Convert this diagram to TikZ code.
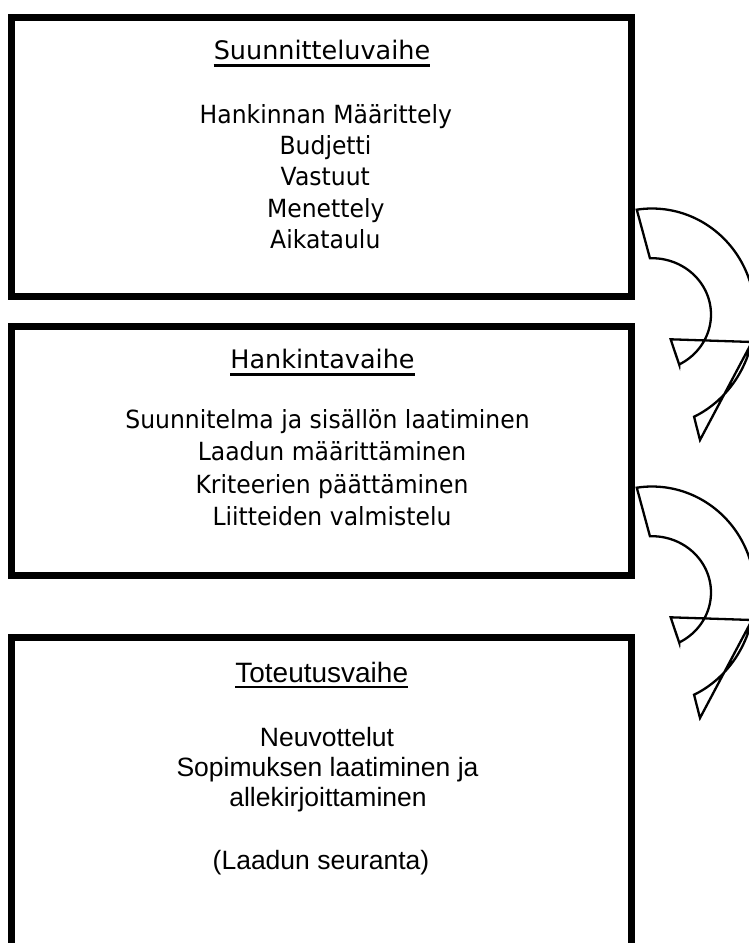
\documentclass[tikz,border=0pt]{standalone}
\usepackage{fontspec}
\newfontfamily\tahfont{DejaVu Sans}[FakeStretch=0.94]
\newfontfamily\tahtitle{DejaVu Sans}
\newfontfamily\arialfont{Liberation Sans}
\tikzset{
  boxst/.style={draw, line width=7pt, inner sep=0pt, minimum width=620pt},
  ttl/.style={anchor=base, inner sep=0pt, font=\tahtitle\fontsize{25.5pt}{30pt}\selectfont},
  itm/.style={anchor=base, inner sep=0pt, font=\tahfont\fontsize{25pt}{30pt}\selectfont},
  ttlb/.style={anchor=base, inner sep=0pt, font=\arialfont\fontsize{28pt}{32pt}\selectfont},
  itmb/.style={anchor=base, inner sep=0pt, font=\arialfont\fontsize{26.5pt}{30pt}\selectfont},
  uline/.style={line width=2.4pt},
  arrst/.style={line width=2.3pt, line join=miter}
}
\newcommand\curvarr{%
  \draw[arrst] plot[domain=-98.5:0, samples=50, variable=\t] ({652+103*cos(\t)},{314.5+106*sin(\t)})
    -- plot[domain=0:65.9, samples=50, variable=\t] ({652+103*cos(\t)},{314.5+112*sin(\t)})
    -- (700,440) -- (752,342) -- (670.7,339.3) -- (679.3,365)
    -- plot[domain=62.4:-92, samples=60, variable=\t] ({652+59*cos(\t)},{314.5+56.3*sin(\t)})
    -- cycle;}
\begin{document}
\begin{tikzpicture}[x=1pt,y=-1pt]
\useasboundingbox (0,0) rectangle (749,943);
\clip (0,0) rectangle (749,943);
\fill[white] (0,0) rectangle (749,943);

% boxes
\node[boxst, minimum height=279pt] (b1) at (321.5,157) {};
\node[boxst, minimum height=249pt] (b2) at (321.5,451.3) {};
\node[boxst, minimum height=340pt] (b3) at (321.5,807.5) {};

% box 1 text
\node[ttl] (t1) at (322,59.3) {Suunnitteluvaihe};
\draw[uline] ([yshift=-6pt]t1.base west) -- ([yshift=-6pt]t1.base east);
\node[itm] (t1a) at (325.8,123.3) {Hankinnan Määrittely};
\node[itm] (t1b) at (325.5,154.5) {Budjetti};
\node[itm] (t1c) at (325.3,185.7) {Vastuut};
\node[itm] (t1d) at (325.8,217) {Menettely};
\node[itm] (t1e) at (325.3,248.3) {Aikataulu};

% box 2 text
\node[ttl] (t2) at (322.5,368) {Hankintavaihe};
\draw[uline] ([yshift=-6.5pt]t2.base west) -- ([yshift=-6.5pt]t2.base east);
\node[itm] (t2a) at (327.5,428) {Suunnitelma ja sisällön laatiminen};
\node[itm] (t2b) at (332,460.5) {Laadun määrittäminen};
\node[itm] (t2c) at (332,493) {Kriteerien päättäminen};
\node[itm] (t2d) at (332,525) {Liitteiden valmistelu};

% box 3 text
\node[ttlb] (t3) at (321.7,682.7) {Toteutusvaihe};
\draw[uline] ([yshift=-4.5pt]t3.base west) -- ([yshift=-4.5pt]t3.base east);
\node[itmb] (t3a) at (327,746.7) {Neuvottelut};
\node[itmb] (t3b) at (327.5,776.7) {Sopimuksen laatiminen ja};
\node[itmb] (t3c) at (328,806.7) {allekirjoittaminen};
\node[itmb] (t3d) at (321,869.5) {(Laadun seuranta)};

% curved arrows
\curvarr
\begin{scope}[shift={(0,278)}]
\curvarr
\end{scope}
\end{tikzpicture}
\end{document}
